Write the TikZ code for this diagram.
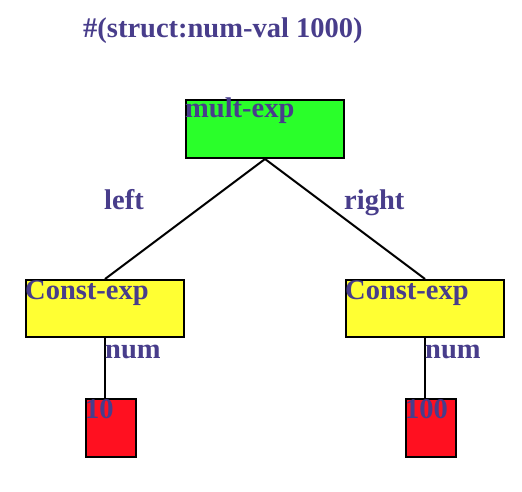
\documentclass[tikz,border=0pt]{standalone}
\usepackage{fontspec}
\setmainfont{Liberation Serif}
\definecolor{labelblue}{RGB}{72,61,139}
\definecolor{multgreen}{RGB}{42,255,42}
\definecolor{constyellow}{RGB}{255,255,51}
\definecolor{numred}{RGB}{255,16,32}
\tikzset{
  box/.style={draw=black, line width=2pt, inner sep=0pt, anchor=north west},
  tag/.style={text=labelblue, font=\fontsize{28.5}{31}\selectfont\bfseries, inner sep=0pt, anchor=base west},
  wire/.style={draw=black, line width=2pt}
}
\begin{document}
\begin{tikzpicture}[x=1pt,y=1pt,yscale=-1,xscale=1]
		\useasboundingbox (0,0) rectangle (522,492);
		% boxes
		\node [box, fill=multgreen, minimum width=158, minimum height=58] (mult) at (185,99) {};
		\node [box, fill=constyellow, minimum width=158, minimum height=57] (lconst) at (25,279) {};
		\node [box, fill=constyellow, minimum width=158, minimum height=57] (rconst) at (345,279) {};
		\node [box, fill=numred, minimum width=50, minimum height=58] (lnum) at (85,398) {};
		\node [box, fill=numred, minimum width=50, minimum height=58] (rnum) at (405,398) {};
		% connectors
		\draw [wire] (mult.south) -- (lconst.north);
		\draw [wire] (mult.south) -- (rconst.north);
		\draw [wire] (lconst.south) -- (lconst.south |- lnum.north);
		\draw [wire] (rconst.south) -- (rconst.south |- rnum.north);
		% texts
		\node [tag] (title) at (83,38) {\#(struct:num-val 1000)};
		\node [tag] (multtxt) at (185,118) {mult-exp};
		\node [tag] (lefttxt) at (104,209) {left};
		\node [tag] (righttxt) at (344,209) {right};
		\node [tag] (lconsttxt) at (25,299) {Const-exp};
		\node [tag] (rconsttxt) at (345,299) {Const-exp};
		\node [tag] (lnumtxt) at (105,358) {num};
		\node [tag] (rnumtxt) at (425,358) {num};
		\node [tag] (lvaltxt) at (85,418) {10};
		\node [tag] (rvaltxt) at (405,418) {100};
\end{tikzpicture}
\end{document}
